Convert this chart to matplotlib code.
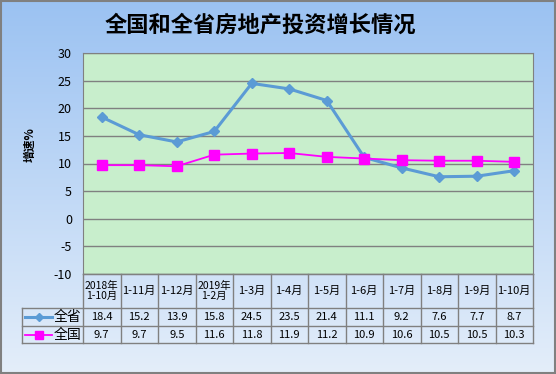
import matplotlib
matplotlib.use('Agg')
import matplotlib.pyplot as plt
import matplotlib.transforms as mtransforms
from matplotlib.lines import Line2D
from matplotlib.patches import Rectangle
import numpy as np

plt.rcParams['font.family'] = ['Noto Sans CJK SC', 'DejaVu Sans']

# 数据
categories = ['2018年\n1-10月', '1-11月', '1-12月', '2019年\n1-2月', '1-3月', '1-4月',
              '1-5月', '1-6月', '1-7月', '1-8月', '1-9月', '1-10月']
quansheng = [18.4, 15.2, 13.9, 15.8, 24.5, 23.5, 21.4, 11.1, 9.2, 7.6, 7.7, 8.7]
quanguo = [9.7, 9.7, 9.5, 11.6, 11.8, 11.9, 11.2, 10.9, 10.6, 10.5, 10.5, 10.3]
series_names = ['全省', '全国']
yticks = [-10, -5, 0, 5, 10, 15, 20, 25, 30]

W, H = 556, 374
fig = plt.figure(figsize=(W / 100, H / 100), dpi=100)

# 渐变背景
bg = fig.add_axes([0, 0, 1, 1], zorder=-10)
top = np.array([155, 194, 242]) / 255
bot = np.array([228, 238, 250]) / 255
t = np.linspace(0, 1, 256)[:, None]
grad = (top * (1 - t) + bot * t)[:, None, :]
bg.imshow(grad, aspect='auto', extent=[0, 1, 0, 1])
bg.add_patch(Rectangle((0.001, 0.002), 0.997, 0.995, fill=False, ec='#808080', lw=1.5))
bg.set_xlim(0, 1)
bg.set_ylim(0, 1)
bg.axis('off')

left, right, ptop, pbot = 83, 533, 53, 274
ax = fig.add_axes([left / W, 1 - pbot / H, (right - left) / W, (pbot - ptop) / H])
ax.set_facecolor('#c8eecc')
x = np.arange(len(categories))
ax.plot(x, quansheng, color='#5b9bd5', lw=2.2, marker='D', ms=5.5, label=series_names[0], zorder=3)
ax.plot(x, quanguo, color='#ff00ff', lw=1.3, marker='s', ms=7, label=series_names[1], zorder=3)
ax.set_xlim(-0.5, len(categories) - 0.5)
ax.set_ylim(-10, 30)
ax.set_yticks(yticks)
ax.set_yticklabels([str(v) for v in yticks], fontsize=9)
ax.set_xticks([])
ax.tick_params(axis='y', length=0, pad=8)
ax.grid(axis='y', color='#808080', lw=1)
for s in ax.spines.values():
    s.set_color('#808080')
ax.set_axisbelow(True)

fig.text(30 / W, 1 - 145 / H, '增速%', rotation=90, fontsize=8.5, fontweight='bold',
         ha='center', va='center')
fig.text(260 / W, 1 - 25 / H, '全国和全省房地产投资增长情况', fontsize=16, fontweight='bold',
         ha='center', va='center')

# 数据表
trans = mtransforms.blended_transform_factory(ax.transData, fig.transFigure)
rows_px = [274, 308, 326, 343]
rows = [1 - r / H for r in rows_px]
legend_left = -0.5 - (left - 22) / ((right - left) / len(categories))
lc = '#808080'
for r in rows[1:]:
    fig.add_artist(Line2D([legend_left, len(categories) - 0.5], [r, r], transform=trans, color=lc, lw=1))
fig.add_artist(Line2D([-0.5, len(categories) - 0.5], [rows[0], rows[0]], transform=trans, color=lc, lw=1))
fig.add_artist(Line2D([legend_left, legend_left], [rows[1], rows[3]], transform=trans, color=lc, lw=1))
for k in range(len(categories) + 1):
    fig.add_artist(Line2D([k - 0.5, k - 0.5], [rows[0], rows[3]], transform=trans, color=lc, lw=1))

for i, c in enumerate(categories):
    fs = 7.5 if '\n' in c else 8
    fig.text(i, (rows[0] + rows[1]) / 2, c, transform=trans, ha='center', va='center',
             fontsize=fs, linespacing=1.05)
    fig.text(i, (rows[1] + rows[2]) / 2, f'{quansheng[i]}', transform=trans, ha='center',
             va='center', fontsize=8)
    fig.text(i, (rows[2] + rows[3]) / 2, f'{quanguo[i]}', transform=trans, ha='center',
             va='center', fontsize=8)

styles = [('#5b9bd5', 'D', 4, 2.2), ('#ff00ff', 's', 6, 1.3)]
for j, (name, (col, mk, ms, lw)) in enumerate(zip(series_names, styles)):
    yc = (rows[j + 1] + rows[j + 2]) / 2
    x0, x1 = 25 / W, 52 / W
    fig.add_artist(Line2D([x0, x1], [yc, yc], color=col, lw=lw))
    fig.add_artist(Line2D([(x0 + x1) / 2], [yc], color=col, marker=mk, ms=ms))
    fig.text(68 / W, yc, name, ha='center', va='center', fontsize=10)

fig.savefig('out.png', dpi=100)
